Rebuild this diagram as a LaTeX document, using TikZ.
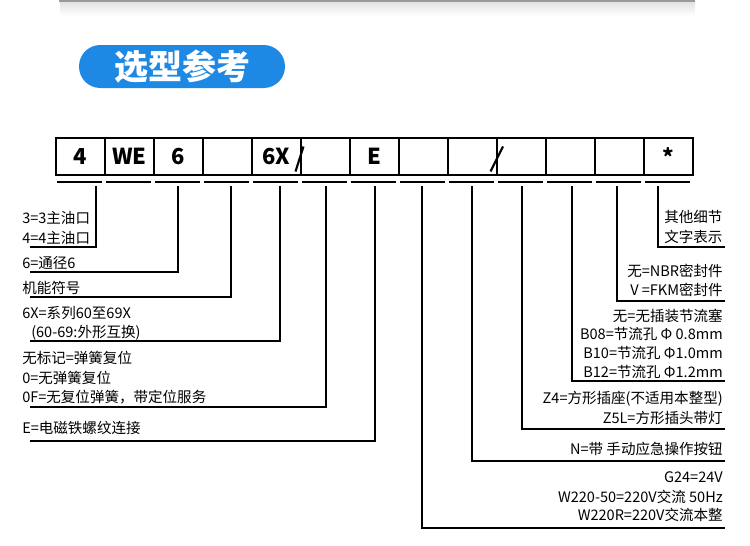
\documentclass[tikz,border=0pt]{standalone}
\usepackage{fontspec}
\setmainfont{Noto Sans CJK SC}
\definecolor{titleblue}{RGB}{30,136,229}
\tikzset{
  ln/.style={line width=1.5pt, black},
  cell/.style={draw, line width=1.3pt, minimum width=36.75pt, minimum height=27.75pt, inner sep=0pt, font=\fontsize{16.5}{18}\selectfont\bfseries},
  lbl/.style={inner sep=0pt, align=left, font=\fontsize{10.9}{14.6}\selectfont},
  rlbl/.style={inner sep=0pt, align=right, font=\fontsize{10.9}{14.6}\selectfont},
}
\begin{document}
\begin{tikzpicture}[x=0.75pt,y=-0.75pt]
\useasboundingbox (0,0) rectangle (750,546);
% top card shadow
\shade[top color=black!12, bottom color=white] (60,1) rectangle (695,16);
\draw[black!40, line width=1.2pt] (59,0.8) -- (695,0.8);
% title
\node[fill=titleblue, rounded corners=16pt, minimum width=154.5pt, minimum height=32.25pt, inner sep=0pt, text=white, font=\fontsize{25.5}{30}\selectfont\bfseries] (title) at (182,66.5) {选型参考};
% cells
\foreach \i/\t in {1/4,2/WE,3/6,4/{},5/6X,6/{},7/E,8/{},9/{},10/{},11/{},12/{},13/{*}} {
  \node[cell] (c\i) at ({31.5+49*\i},156.5) {\t};
  \draw[ln] ({8+49*\i},182) -- ({53+49*\i},182);
}
% slashes
\draw[ln, line width=1.6pt] (295.5,171.5) -- (303.5,146.5);
\draw[ln, line width=1.6pt] (490.5,171.5) -- (503,146.5);
% connector start points
\foreach \n/\x in {a/96,b/178,c/231,d/280,e/326,f/375,g/422,h/472,i/522,j/572,k/617,l/658} {
  \coordinate (s\n) at (\x,186);
}
% end points
\coordinate (ea) at (30,247);
\coordinate (eb) at (30,272);
\coordinate (ec) at (30,297);
\coordinate (ed) at (30,341);
\coordinate (ee) at (30,407);
\coordinate (ef) at (30,441);
\coordinate (eg) at (725,528);
\coordinate (eh) at (725,461);
\coordinate (ei) at (725,429);
\coordinate (ej) at (725,381);
\coordinate (ek) at (725,301);
\coordinate (el) at (725,247);
\foreach \n in {a,b,c,d,e,f,g,h,i,j,k,l} {
  \draw[ln] (s\n) |- (e\n);
}
% left labels
\node[lbl, anchor=west] (la1) at (22,218) {3=3主油口};
\node[lbl, anchor=west] (la2) at (22,238) {4=4主油口};
\node[lbl, anchor=west] (lb) at (22,263) {6=通径6};
\node[lbl, anchor=west] (lc) at (22,288) {机能符号};
\node[lbl, anchor=west] (ld1) at (22,313) {6X=系列60至69X};
\node[lbl, anchor=west] (ld2) at (31,333) {(60-69:外形互换)};
\node[lbl, anchor=west] (le1) at (22,358) {无标记=弹簧复位};
\node[lbl, anchor=west] (le2) at (22,378) {0=无弹簧复位};
\node[lbl, anchor=west] (le3) at (22,397) {0F=无复位弹簧，带定位服务};
\node[lbl, anchor=west] (lf) at (22,428) {E=电磁铁螺纹连接};
% right labels
\node[lbl, anchor=west] (ll1) at (664,217) {其他细节};
\node[lbl, anchor=west] (ll2) at (664,237) {文字表示};
\node[rlbl, anchor=east] (lk1) at (723,271) {无=NBR密封件};
\node[rlbl, anchor=east] (lk2) at (723,290) {V =FKM密封件};
\node[rlbl, anchor=east] (lj1) at (723,316) {无=无插装节流塞};
\node[rlbl, anchor=east] (lj2) at (723,334) {B08=节流孔 Φ 0.8mm};
\node[rlbl, anchor=east] (lj3) at (723,353) {B10=节流孔 Φ1.0mm};
\node[rlbl, anchor=east] (lj4) at (723,372) {B12=节流孔 Φ1.2mm};
\node[rlbl, anchor=east] (li1) at (723,399) {Z4=方形插座(不适用本整型)};
\node[rlbl, anchor=east] (li2) at (723,418) {Z5L=方形插头带灯};
\node[rlbl, anchor=east] (lh) at (723,449) {N=带 手动应急操作按钮};
\node[rlbl, anchor=east] (lg1) at (723,477) {G24=24V};
\node[rlbl, anchor=east] (lg2) at (723,497) {W220-50=220V交流 50Hz};
\node[rlbl, anchor=east] (lg3) at (723,515) {W220R=220V交流本整};
\end{tikzpicture}
\end{document}
